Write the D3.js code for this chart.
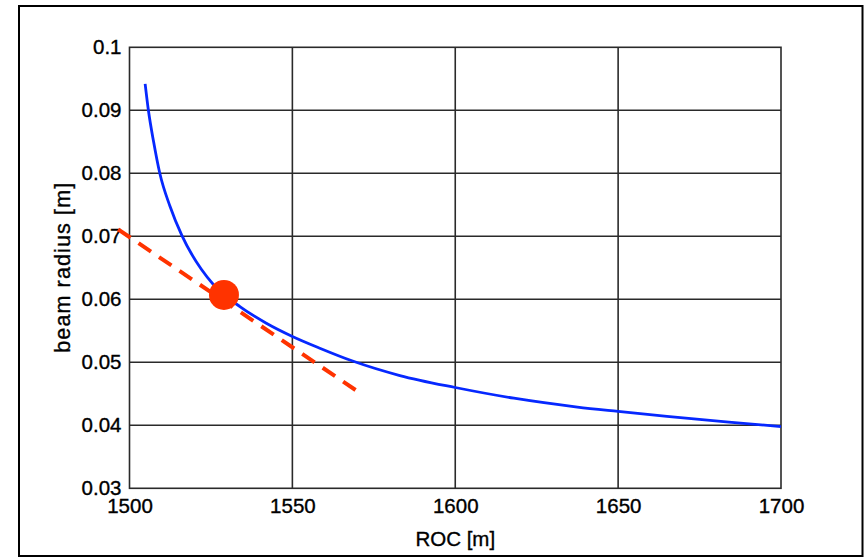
<!DOCTYPE html>
<html>
<head>
<meta charset="utf-8">
<script src="https://cdn.jsdelivr.net/npm/d3@7"></script>
<style>
  html, body { margin: 0; padding: 0; background: #ffffff; }
  svg { display: block; }
  text { font-family: "Liberation Sans", Arial, sans-serif; fill: #000; stroke: #000; stroke-width: 0.35px; }
</style>
</head>
<body>
<svg id="chart" width="865" height="557"></svg>
<script>
// ---- data ----
const rocValues    = [1504.8, 1505.8, 1507.4, 1509.3, 1512.4, 1516.1, 1522, 1526, 1534, 1542, 1550, 1558.6, 1568.5, 1583, 1600, 1618, 1637.5, 1650, 1665, 1684, 1700];
const radiusValues = [0.0942, 0.0900, 0.0850, 0.0800, 0.0748, 0.0701, 0.0648, 0.0622, 0.0588, 0.0562, 0.0541, 0.0522, 0.0502, 0.0479, 0.0460, 0.0443, 0.0429, 0.0422, 0.0414, 0.0405, 0.0398];
const tangentRoc    = [1496.5, 1569.4];
const tangentRadius = [0.0711, 0.0456];
const markerRoc    = [1529];
const markerRadius = [0.0607];
const xTicks = [1500, 1550, 1600, 1650, 1700];
const xTickLabels = ["1500", "1550", "1600", "1650", "1700"];
const yTicks = [0.03, 0.04, 0.05, 0.06, 0.07, 0.08, 0.09, 0.1];
const yTickLabels = ["0.03", "0.04", "0.05", "0.06", "0.07", "0.08", "0.09", "0.1"];
const xLabel = "ROC [m]";
const yLabel = "beam radius [m]";

// ---- layout ----
const svg = d3.select("#chart");
const plot = { left: 129.5, right: 781, top: 47.3, bottom: 488.3 };

const x = d3.scaleLinear().domain([1500, 1700]).range([plot.left, plot.right]);
const y = d3.scaleLinear().domain([0.03, 0.1]).range([plot.bottom, plot.top]);

// outer frame
svg.append("rect")
  .attr("x", 19).attr("y", 6).attr("width", 843.5).attr("height", 550)
  .attr("fill", "#fff").attr("stroke", "#000").attr("stroke-width", 2);

// grid
const grid = svg.append("g").attr("stroke", "#2a2a2a").attr("stroke-width", 1.6);
grid.selectAll("line.v").data(xTicks.slice(1, -1)).join("line")
  .attr("x1", d => x(d)).attr("x2", d => x(d))
  .attr("y1", plot.top).attr("y2", plot.bottom);
grid.selectAll("line.h").data(yTicks.slice(1, -1)).join("line")
  .attr("x1", plot.left).attr("x2", plot.right)
  .attr("y1", d => y(d)).attr("y2", d => y(d));
grid.append("rect")
  .attr("x", plot.left).attr("y", plot.top)
  .attr("width", plot.right - plot.left).attr("height", plot.bottom - plot.top)
  .attr("fill", "none");

// axes (labels only)
const xAxis = d3.axisBottom(x).tickValues(xTicks)
  .tickFormat((d, i) => xTickLabels[i]).tickSize(0).tickPadding(10.5);
const gx = svg.append("g").attr("transform", `translate(0,${plot.bottom})`).call(xAxis);
gx.select(".domain").remove();
gx.selectAll("text").attr("font-size", 20.5).attr("font-family", "Liberation Sans, Arial, sans-serif").attr("fill", "#000");

const yAxis = d3.axisLeft(y).tickValues(yTicks)
  .tickFormat((d, i) => yTickLabels[i]).tickSize(0).tickPadding(8);
const gy = svg.append("g").attr("transform", `translate(${plot.left},0)`).call(yAxis);
gy.select(".domain").remove();
gy.selectAll("text").attr("font-size", 20.5).attr("font-family", "Liberation Sans, Arial, sans-serif").attr("fill", "#000");

// axis titles
svg.append("text")
  .attr("x", (plot.left + plot.right) / 2).attr("y", 546)
  .attr("text-anchor", "middle").attr("font-size", 20.5)
  .text(xLabel);
svg.append("text")
  .attr("transform", `translate(70,${(plot.top + plot.bottom) / 2}) rotate(-90)`)
  .attr("text-anchor", "middle").attr("font-size", 21.5)
  .attr("textLength", 170).attr("lengthAdjust", "spacing")
  .text(yLabel);

// tangent dashed line
const tangentData = tangentRoc.map((r, i) => ({ r, w: tangentRadius[i] }));
svg.append("path")
  .datum(tangentData)
  .attr("d", d3.line().x(d => x(d.r)).y(d => y(d.w)))
  .attr("fill", "none").attr("stroke", "#ff3300")
  .attr("stroke-width", 4).attr("stroke-dasharray", "15,9.7");

// curve
const curveData = rocValues.map((r, i) => ({ r, w: radiusValues[i] }));
svg.append("path")
  .datum(curveData)
  .attr("d", d3.line().curve(d3.curveMonotoneX).x(d => x(d.r)).y(d => y(d.w)))
  .attr("fill", "none").attr("stroke", "#0628ff").attr("stroke-width", 2.8);

// marker
const markerData = markerRoc.map((r, i) => ({ r, w: markerRadius[i] }));
svg.selectAll("circle.marker").data(markerData).join("circle")
  .attr("class", "marker")
  .attr("cx", d => x(d.r)).attr("cy", d => y(d.w)).attr("r", 15)
  .attr("fill", "#ff3300");
</script>
</body>
</html>
